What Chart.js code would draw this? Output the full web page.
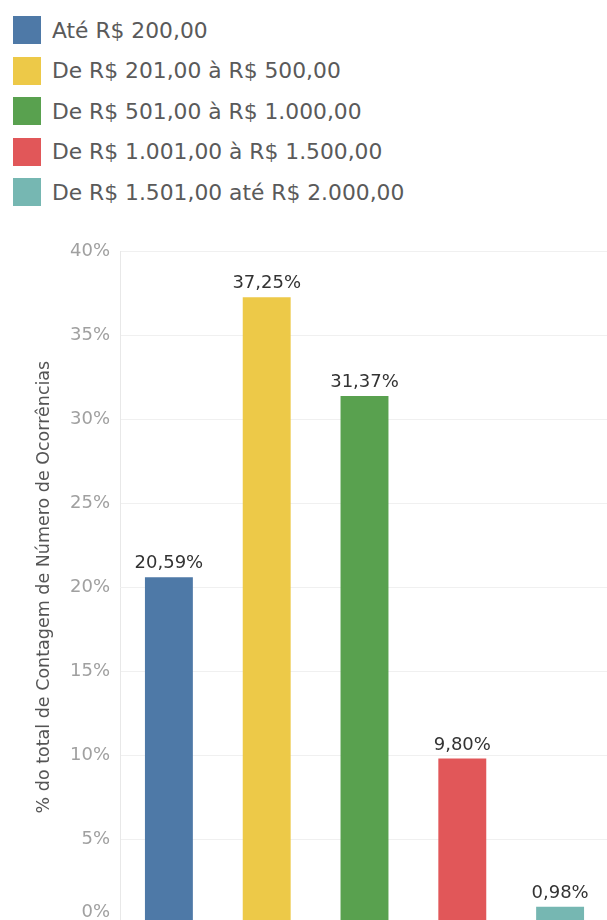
<!DOCTYPE html>
<html lang="pt-BR">
<head>
<meta charset="utf-8">
<script src="https://cdn.jsdelivr.net/npm/chart.js@4.4.1/dist/chart.umd.min.js"></script>
<style>
  html, body { margin: 0; padding: 0; background: #fff; width: 607px; height: 920px; overflow: hidden; }
  #legend { position: absolute; left: 13px; top: 16px; font-family: "DejaVu Sans", sans-serif; font-size: 21.8px; color: #5a5a5a; }
  #legend .item { display: flex; align-items: center; height: 28px; margin-bottom: 12.5px; }
  #legend .swatch { width: 28px; height: 28px; margin-right: 11px; }
  #wrap { position: absolute; left: 0; top: 230px; width: 609px; height: 714px; }
</style>
</head>
<body>
<div id="legend"></div>
<div id="wrap"><canvas id="chart"></canvas></div>
<script>
const categories = [
  'Até R$ 200,00',
  'De R$ 201,00 à R$ 500,00',
  'De R$ 501,00 à R$ 1.000,00',
  'De R$ 1.001,00 à R$ 1.500,00',
  'De R$ 1.501,00 até R$ 2.000,00'
]
const percentages = [20.59, 37.25, 31.37, 9.80, 0.98]
const colors = ['#4e79a7', '#edc948', '#59a14f', '#e15759', '#76b7b2']
const yTicks = [0, 5, 10, 15, 20, 25, 30, 35, 40]

const fmtPct = (v, digits) => v.toFixed(digits).replace('.', ',') + '%'

// legend list
const legend = document.getElementById('legend')
categories.forEach((name, i) => {
  const row = document.createElement('div')
  row.className = 'item'
  row.innerHTML = '<span class="swatch" style="background:' + colors[i] + '"></span><span>' + name + '</span>'
  legend.appendChild(row)
})

const tickFont = { family: 'DejaVu Sans', size: 18 }

// value labels over each bar
const barLabels = {
  id: 'barLabels',
  afterDatasetsDraw(chart) {
    const ctx = chart.ctx
    const meta = chart.getDatasetMeta(0)
    ctx.save()
    ctx.font = '18px "DejaVu Sans"'
    ctx.fillStyle = '#333'
    ctx.textAlign = 'center'
    ctx.textBaseline = 'alphabetic'
    meta.data.forEach((bar, i) => {
      ctx.fillText(fmtPct(percentages[i], 2), bar.x, bar.y - 9)
    })
    ctx.restore()
  }
}

// the 0% label would sit below the visible area, keep it inside
const zeroLabel = {
  id: 'zeroLabel',
  afterDraw(chart) {
    const y = chart.scales.y
    const ctx = chart.ctx
    const visibleBottom = window.innerHeight - chart.canvas.getBoundingClientRect().top
    ctx.save()
    ctx.font = '18px "DejaVu Sans"'
    ctx.fillStyle = '#a0a0a0'
    ctx.textAlign = 'right'
    ctx.textBaseline = 'middle'
    ctx.fillText('0%', y.right - 10, Math.min(y.getPixelForValue(0), visibleBottom - 8))
    ctx.restore()
  }
}

new Chart(document.getElementById('chart'), {
  type: 'bar',
  data: {
    labels: categories,
    datasets: [{
      data: percentages,
      backgroundColor: colors,
      borderWidth: 0,
      barPercentage: 0.49,
      categoryPercentage: 1
    }]
  },
  options: {
    responsive: true,
    maintainAspectRatio: false,
    animation: false,
    layout: { padding: { top: 21, right: 0, bottom: 0, left: 0 } },
    plugins: {
      legend: { display: false },
      tooltip: { enabled: false }
    },
    scales: {
      x: { display: false },
      y: {
        min: 0,
        max: 40,
        afterFit: (scale) => { scale.width = 120 },
        afterBuildTicks: (scale) => { scale.ticks = yTicks.map(v => ({ value: v })) },
        border: { color: '#e8e8e8' },
        grid: { color: '#f0f0f0', drawTicks: false },
        ticks: {
          padding: 10,
          color: '#a0a0a0',
          font: tickFont,
          callback: (v) => v === 0 ? '' : v + '%'
        },
        title: {
          display: true,
          text: '% do total de Contagem de Número de Ocorrências',
          color: '#555',
          font: { family: 'DejaVu Sans', size: 17.5 },
          padding: { top: 34, bottom: 0 }
        }
      }
    }
  },
  plugins: [barLabels, zeroLabel]
})
</script>
</body>
</html>
